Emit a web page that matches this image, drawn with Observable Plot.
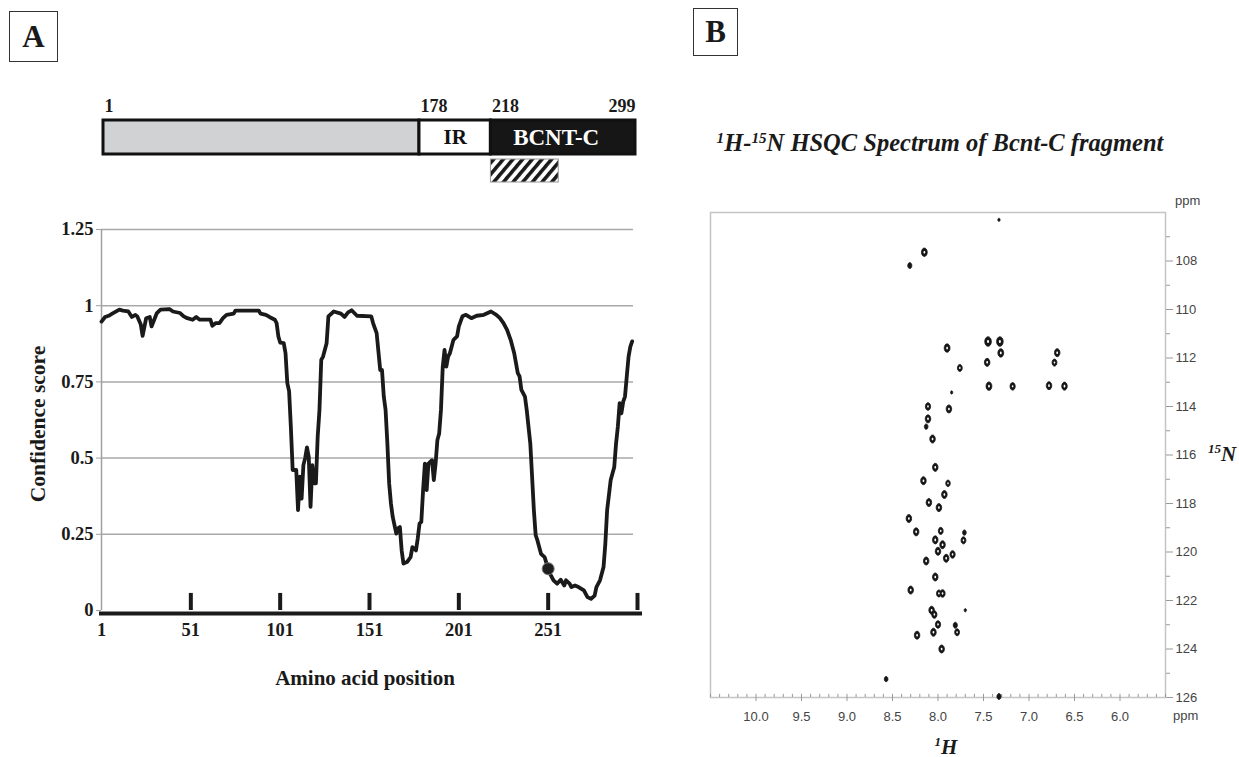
<!DOCTYPE html>
<html><head><meta charset="utf-8">
<script src="https://cdn.jsdelivr.net/npm/d3@7"></script>
<script src="https://cdn.jsdelivr.net/npm/@observablehq/plot@0.6"></script>
<style>
body{margin:0;background:#fff;}
#root{position:relative;width:1239px;height:757px;overflow:hidden;background:#fff;font-family:"Liberation Serif","Times New Roman",serif;color:#1a1a1a;}
.abs{position:absolute;white-space:nowrap;}
.box{position:absolute;border:1.5px solid #333;box-sizing:border-box;display:flex;align-items:center;justify-content:center;font-weight:bold;font-size:31px;}
.bt{font-weight:bold;font-size:21px;}
.bi{font-weight:bold;font-style:italic;}
.sans{font-family:"Liberation Sans",Arial,sans-serif;font-size:13px;color:#444;}
sup{font-size:62%;vertical-align:0.55em;line-height:0;}
</style></head><body>
<div id="root">
  <div class="box" style="left:9px;top:11px;width:49px;height:51px;">A</div>
  <div class="box" style="left:693px;top:8px;width:45px;height:48px;">B</div>
  <div class="abs bt" style="left:38px;top:424px;transform:translate(-50%,-50%) rotate(-90deg);font-size:21.5px;">Confidence score</div>
  <div class="abs bt" style="left:365px;top:678px;transform:translate(-50%,-50%);">Amino acid position</div>
  <div class="abs bi" style="left:940px;top:143px;transform:translate(-50%,-50%);font-size:24.5px;"><sup>1</sup>H-<sup>15</sup>N HSQC Spectrum of Bcnt-C fragment</div>
  <div class="abs sans" style="left:1175px;top:200px;transform:translateY(-50%);">ppm</div>
  <div class="abs sans" style="left:1173px;top:715px;transform:translateY(-50%);">ppm</div>
  <div class="abs bi" style="left:1208px;top:454px;transform:translateY(-50%);font-size:21px;"><sup>15</sup>N</div>
  <div class="abs bi" style="left:946px;top:747px;transform:translate(-50%,-50%);font-size:21px;"><sup>1</sup>H</div>
  <div class="abs" id="domA" style="left:0;top:100px;"></div>
  <div class="abs" id="lineA" style="left:0;top:200px;"></div>
  <div class="abs" id="nmrB" style="left:690px;top:180px;"></div>
</div>
<script>
// ---------- Panel A data ----------
const domainNames = ["N-terminal", "IR", "BCNT-C"];
const domainStart = [1, 178, 218];
const domainEnd = [178, 218, 299];
const boundaryLabels = [1, 178, 218, 299];
const fragmentRange = [218, 256];
const xTickLabelsA = [1, 51, 101, 151, 201, 251];
const xTickMarksA = [51, 101, 151, 201, 251, 301];
const yTicksA = [0, 0.25, 0.5, 0.75, 1, 1.25];
const markedResidue = [251];
const markedScore = [0.137];
// [amino acid position, confidence score]
const confidenceProfile = [
[1,.948],[3,.963],[5,.967],[7,.974],[11,.987],[13,.984],[16,.981],[18,.963],[20,.970],[21,.965],
[23,.938],[24,.901],[26,.959],[28,.963],[29,.932],[32,.976],[34,.987],[39,.989],[41,.981],[45,.976],
[47,.965],[49,.959],[52,.954],[54,.963],[56,.954],[62,.954],[63,.934],[65,.943],[67,.943],[69,.959],
[71,.970],[75,.974],[76,.984],[86,.984],[89,.984],[90,.974],[93,.970],[95,.963],[98,.954],[99,.943],
[100,.899],[101,.879],[103,.877],[104,.844],[105,.746],[106,.720],[107,.600],[108,.461],[109,.461],[110,.461],
[111,.329],[112,.439],[113,.367],[114,.477],[115,.500],[116,.535],[117,.504],[118,.340],[119,.477],[120,.417],
[121,.417],[122,.570],[123,.658],[124,.822],[125,.833],[127,.877],[128,.965],[131,.981],[135,.974],[137,.963],
[139,.978],[141,.985],[144,.967],[152,.965],[153,.943],[155,.910],[157,.789],[158,.789],[159,.702],[160,.658],
[161,.548],[162,.417],[163,.351],[164,.307],[166,.252],[167,.270],[168,.274],[169,.197],[170,.154],[172,.159],
[174,.175],[175,.208],[177,.197],[178,.236],[179,.285],[180,.291],[181,.395],[182,.482],[183,.395],[184,.482],
[186,.493],[187,.428],[188,.482],[189,.559],[190,.581],[191,.658],[192,.800],[193,.855],[194,.800],[195,.833],
[196,.844],[198,.888],[200,.899],[201,.932],[203,.965],[205,.970],[208,.959],[211,.967],[215,.970],[219,.981],
[222,.970],[224,.959],[226,.943],[228,.921],[230,.888],[232,.844],[234,.779],[235,.768],[236,.724],[237,.713],
[238,.702],[239,.658],[241,.548],[242,.439],[243,.329],[244,.247],[245,.230],[247,.186],[249,.175],[251,.137],
[252,.121],[254,.099],[256,.088],[258,.101],[260,.082],[261,.099],[263,.088],[264,.077],[266,.082],[268,.077],
[271,.066],[273,.044],[275,.038],[277,.049],[278,.077],[280,.099],[282,.143],[283,.219],[284,.329],[286,.428],
[288,.471],[289,.548],[290,.603],[291,.680],[292,.647],[293,.685],[294,.702],[295,.768],[296,.833],[297,.866],
[298,.883]
];

// ---------- Panel B data (1H ppm, 15N ppm, relative intensity) ----------
const peak1H = [7.33,8.15,8.31,7.90,7.76,7.45,7.32,7.31,7.46,6.69,6.72,
  7.44,7.18,6.78,6.61,7.85,8.11,7.88,8.11,8.13,8.06,8.03,8.16,7.89,7.93,8.10,7.99,
  8.32,8.24,7.97,7.71,7.72,8.03,7.95,8.00,7.91,7.84,8.13,8.03,8.30,7.99,7.95,
  8.07,8.04,7.70,8.00,7.81,7.79,8.05,8.23,7.96,8.57,7.33];
const peak15N = [106.3,107.64,108.19,111.59,112.41,111.32,111.32,111.79,112.18,111.78,112.19,
  113.16,113.17,113.14,113.16,113.42,114.0,114.1,114.51,114.83,115.34,116.51,117.06,117.17,117.63,117.96,118.17,
  118.62,119.17,119.13,119.2,119.52,119.5,119.7,119.97,120.26,120.1,120.37,121.03,121.57,121.71,121.71,
  122.4,122.58,122.4,122.99,123.02,123.31,123.31,123.43,124.0,125.24,125.96];
const peakIntensity = [0.15,1,0.5,1,0.7,1.3,1.3,1,0.9,0.9,0.7,
  1,0.8,0.9,0.9,0.15,0.8,0.9,0.9,0.4,0.9,0.9,0.9,0.6,0.9,0.9,0.9,
  0.9,0.9,0.7,0.4,0.7,0.9,0.9,0.9,0.9,0.8,0.9,0.9,0.9,0.7,0.8,
  0.9,0.8,0.15,0.8,0.5,0.7,0.9,0.9,0.9,0.4,0.5];
const hTicks = [10.0,9.5,9.0,8.5,8.0,7.5,7.0,6.5,6.0];
const hMinor = d3.range(55, 106).map(d => d / 10);
const nTicks = [108,110,112,114,116,118,120,122,124,126];
const nMinor = [107,109,111,113,115,117,119,121,123,125];

// ---------- Panel A: domain diagram ----------
const domains = domainNames.map((name, i) => ({name, start: domainStart[i], end: domainEnd[i]}));
const domPlot = Plot.plot({
  width: 660, height: 88, marginLeft: 103, marginRight: 25, marginTop: 20, marginBottom: 0,
  style: {fontFamily: "Liberation Serif, serif", background: "transparent", overflow: "visible"},
  x: {domain: [1, 299], axis: null},
  y: {domain: ["protein", "fragment"], axis: null, padding: 0},
  color: {domain: domainNames, range: ["#d1d2d4", "#ffffff", "#161616"]},
  marks: [
    Plot.barX([fragmentRange], {x1: d => d[0], x2: d => d[1], y: () => "fragment", fill: "url(#hatch)", stroke: "#999", strokeWidth: 1, insetTop: 5, insetBottom: 6}),
    Plot.barX(domains, {x1: "start", x2: "end", y: () => "protein", fill: "name", stroke: "#111", strokeWidth: 3}),
    Plot.text(domains.filter(d => d.name === "IR"), {x: d => (d.start + d.end) / 2, y: () => "protein", text: "name", fill: "#111", fontWeight: "bold", fontSize: 21}),
    Plot.text(domains.filter(d => d.name === "BCNT-C"), {x: d => (d.start + d.end) / 2, y: () => "protein", text: "name", fill: "#fff", fontWeight: "bold", fontSize: 23, dx: -7}),
    Plot.text(boundaryLabels.slice(0, 3), {x: d => d, y: () => "protein", text: d => String(d), textAnchor: "start", dx: 1, dy: -31, fontWeight: "bold", fontSize: 18, fill: "#1a1a1a"}),
    Plot.text(boundaryLabels.slice(3), {x: d => d, y: () => "protein", text: d => String(d), textAnchor: "end", dy: -31, fontWeight: "bold", fontSize: 18, fill: "#1a1a1a"})
  ]
});
d3.select(domPlot).insert("defs", ":first-child").html(
  '<pattern id="hatch" patternUnits="userSpaceOnUse" width="7.4" height="7.4" patternTransform="rotate(40)">' +
  '<rect width="7.4" height="7.4" fill="#fff"/><rect width="3.6" height="7.4" fill="#1a1a1a"/></pattern>');
document.getElementById("domA").append(domPlot);

// ---------- Panel A: confidence profile ----------
const lineData = confidenceProfile.map(([p, v]) => ({p, v}));
const linePlot = Plot.plot({
  width: 660, height: 500, marginLeft: 101, marginRight: 23, marginTop: 29, marginBottom: 90,
  style: {fontFamily: "Liberation Serif, serif", fontWeight: "bold", fontSize: "18px", color: "#1a1a1a", background: "transparent", overflow: "visible"},
  x: {domain: [1, 301]},
  y: {domain: [0, 1.25]},
  marks: [
    Plot.ruleY(yTicksA.filter(d => d > 0), {stroke: "#a9a9a9", strokeWidth: 1.5, insetRight: 4}),
    Plot.ruleX([1], {y1: 0, y2: 1.25, stroke: "#a0a0a0", strokeWidth: 1.5}),
    Plot.axisY({ticks: yTicksA, tickFormat: d => String(d), tickSize: 5, tickPadding: 3, stroke: "#a0a0a0", label: null, fill: "#1a1a1a", fontSize: 18.5}),
    Plot.axisX({ticks: xTickLabelsA, tickFormat: d => String(d), tickSize: 0, tickPadding: 12, label: null, fill: "#1a1a1a", fontSize: 18.5}),
    Plot.ruleY([0], {stroke: "#1a1a1a", strokeWidth: 4, dy: 3, insetLeft: -2, insetRight: -5}),
    Plot.ruleX(xTickMarksA, {y1: 0, y2: 0.056, stroke: "#1a1a1a", strokeWidth: 4}),
    Plot.line(lineData, {x: "p", y: "v", stroke: "#1a1a1a", strokeWidth: 3.8, strokeLinejoin: "round"}),
    Plot.dot(markedResidue.map((p, i) => ({p, v: markedScore[i]})), {x: "p", y: "v", r: 6, fill: "#1e1e1e", stroke: "#777", strokeWidth: 1})
  ]
});
document.getElementById("lineA").append(linePlot);

// ---------- Panel B: HSQC spectrum ----------
const ellipse = {
  draw(ctx, size) {
    const r = Math.sqrt(size / Math.PI), rx = 0.72 * r, ry = 1.05 * r, k = 0.5523;
    ctx.moveTo(rx, 0);
    ctx.bezierCurveTo(rx, k * ry, k * rx, ry, 0, ry);
    ctx.bezierCurveTo(-k * rx, ry, -rx, k * ry, -rx, 0);
    ctx.bezierCurveTo(-rx, -k * ry, -k * rx, -ry, 0, -ry);
    ctx.bezierCurveTo(k * rx, -ry, rx, -k * ry, rx, 0);
    ctx.closePath();
  }
};
const peaks = peak1H.map((h, i) => ({h, n: peak15N[i], i: peakIntensity[i]}));
const nmrPlot = Plot.plot({
  width: 549, height: 577, marginLeft: 20, marginRight: 74, marginTop: 32, marginBottom: 60,
  style: {fontFamily: "Liberation Sans, Arial, sans-serif", fontSize: "13px", color: "#444", background: "transparent", overflow: "visible"},
  x: {domain: [10.5, 5.5]},
  y: {domain: [106, 126], reverse: true},
  r: {domain: [0, 1.3], range: [0, 4.6]},
  marks: [
    Plot.frame({stroke: "#c4c4c4", strokeWidth: 1.5}),
    Plot.ruleX(hMinor, {y1: 126, y2: 125.87, stroke: "#999"}),
    Plot.axisX({ticks: hTicks, tickFormat: d3.format(".1f"), tickSize: 4, tickPadding: 10, stroke: "#999", label: null, fill: "#444"}),
    Plot.axisY({anchor: "right", ticks: nTicks, tickSize: 7, tickPadding: 3, stroke: "#999", label: null, fill: "#444"}),
    Plot.axisY({anchor: "right", ticks: nMinor, tickSize: 4, tickFormat: () => "", stroke: "#999", label: null}),
    Plot.dot(peaks, {x: "h", y: "n", r: "i", symbol: ellipse, fill: "#161616", stroke: "#161616", strokeWidth: 0.8}),
    Plot.dot(peaks.filter(d => d.i >= 0.6), {x: "h", y: "n", r: d => d.i * 0.1, symbol: ellipse, fill: "#fff"})
  ]
});
document.getElementById("nmrB").append(nmrPlot);
</script>
</body></html>
